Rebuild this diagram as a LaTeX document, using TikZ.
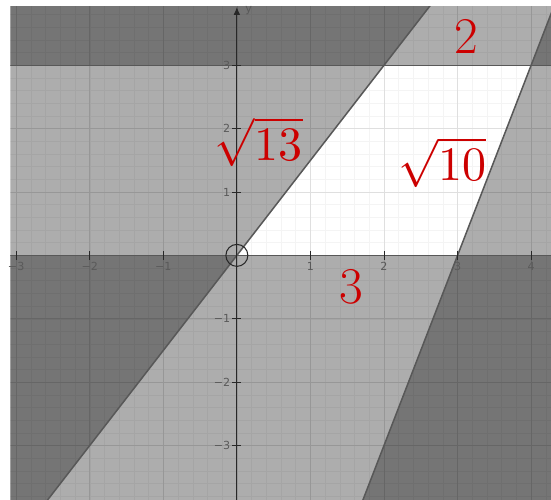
\documentclass[tikz,border=0pt]{standalone}
\usepackage{fontspec}
\usepackage{graphicx}
\usepackage{tikz}
\usetikzlibrary{arrows.meta}
\newfontfamily\tickfont{DejaVu Sans}
\definecolor{labred}{RGB}{204,0,0}
\definecolor{edgegray}{RGB}{88,88,88}
\definecolor{axisgray}{RGB}{40,40,40}
\definecolor{ticklab}{RGB}{90,90,90}

\begin{document}
\begin{tikzpicture}[x=2.208cm, y=1.902cm,
    shade/.style={fill=black, fill opacity=0.32},
    bound/.style={edgegray, line width=1.3pt},
    ticklabel/.style={font=\fontsize{9.5}{11}\tickfont, text=ticklab, inner sep=1pt},
    redlabel/.style={font=\fontsize{44}{50}\selectfont, text=labred, inner sep=0pt},
    rootlabel/.style={font=\fontsize{10}{12}\selectfont, text=labred, inner sep=0pt}]
  \useasboundingbox (-3.22,-3.85) rectangle (4.27,4.03);
  \coordinate (O) at (0,0);
  \coordinate (A) at (2,3);
  \coordinate (B) at (4,3);
  \coordinate (C) at (3,0);
  \begin{scope}
    \clip (-3.08,-3.85) rectangle (4.27,3.92);
    \draw[gray!9, line width=0.4pt, step=0.2] (-3.2,-4) grid (4.4,4);
    \draw[gray!25, line width=0.5pt, step=1] (-3.2,-4) grid (4.4,4);
    \fill[shade] (-3.2,-4) rectangle (4.4,4);
    \fill[white] (O) -- (A) -- (B) -- (C) -- cycle;
    \begin{scope}
      \clip (O) -- (A) -- (B) -- (C) -- cycle;
      \draw[gray!9, line width=0.4pt, step=0.2] (-3.2,-4) grid (4.4,4);
      \draw[gray!25, line width=0.5pt, step=1] (-3.2,-4) grid (4.4,4);
    \end{scope}
    \fill[shade] (-5,3) -- (A) -- (3,4.5) -- (-5,4.5) -- cycle;
    \fill[shade] (B) -- (5,3) -- (5,6) -- cycle;
    \fill[shade] (-5,0) -- (O) -- (-3,-4.5) -- (-5,-4.5) -- cycle;
    \fill[shade] (C) -- (5,0) -- (5,-4.5) -- (1.5,-4.5) -- cycle;
    \draw[bound] (-3.2,3) -- (4.4,3);
    \draw[bound] (-3.2,0) -- (4.4,0);
    \draw[bound] (-3,-4.5) -- (3,4.5);
    \draw[bound] (1.5,-4.5) -- (5,6);
    \draw[axisgray, line width=0.8pt, -{Latex[length=2.4mm,width=2mm]}] (0,-3.9) -- (0,3.92);
    \foreach \i in {-3,-2,-1,1,2,3,4}
      \draw[axisgray, line width=0.7pt] (\i,-0.07) -- (\i,0.07);
    \foreach \i in {-3,-2,-1,1,2,3}
      \draw[axisgray, line width=0.7pt] (-0.06,\i) -- (0.06,\i);
  \end{scope}
  \node[ticklabel] (xm3) at (-3,-0.17) {−3};
  \node[ticklabel] (xm2) at (-2,-0.17) {−2};
  \node[ticklabel] (xm1) at (-1,-0.17) {−1};
  \node[ticklabel] (x1) at (1,-0.17) {1};
  \node[ticklabel] (x2) at (2,-0.17) {2};
  \node[ticklabel] (x3) at (3,-0.17) {3};
  \node[ticklabel] (x4) at (4,-0.17) {4};
  \node[ticklabel, anchor=east] (y3) at (-0.07,3) {3};
  \node[ticklabel, anchor=east] (y2) at (-0.07,2) {2};
  \node[ticklabel, anchor=east] (y1) at (-0.07,1) {1};
  \node[ticklabel, anchor=east] (ym1) at (-0.07,-1) {−1};
  \node[ticklabel, anchor=east] (ym2) at (-0.07,-2) {−2};
  \node[ticklabel, anchor=east] (ym3) at (-0.07,-3) {−3};
  \node[ticklabel] (ylab) at (0.16,3.86) {y};
  \draw[axisgray, line width=0.9pt] (O) circle[radius=0.33cm];
  \node[redlabel] (two) at (3.12,3.45) {2};
  \node[rootlabel] (rthirteen) at (0.30,1.79) {\scalebox{4.1}{$\sqrt{13}$}};
  \node[rootlabel] (rten) at (2.79,1.47) {\scalebox{4.1}{$\sqrt{10}$}};
  \node[redlabel] (three) at (1.56,-0.5) {3};
\end{tikzpicture}
\end{document}
